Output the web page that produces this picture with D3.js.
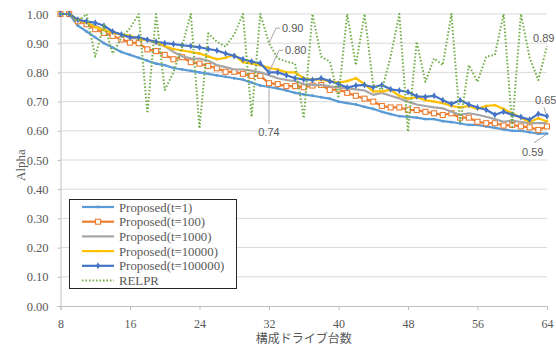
<!DOCTYPE html>
<html><head><meta charset="utf-8">
<script src="https://cdn.jsdelivr.net/npm/d3@7"></script>
<style>
html,body{margin:0;padding:0;background:#fff;}
svg{display:block;}
</style>
</head><body>
<svg id="chart" width="556" height="347"></svg>
<script>
const xValues = d3.range(8, 65);
const yTicks = [0,0.1,0.2,0.3,0.4,0.5,0.6,0.7,0.8,0.9,1.0];
const xTicks = [8,16,24,32,40,48,56,64];
const seriesNames = ["Proposed(t=1)","Proposed(t=100)","Proposed(t=1000)","Proposed(t=10000)","Proposed(t=100000)","RELPR"];

const t1 = [1.00,1.00,0.96,0.94,0.92,0.90,0.885,0.87,0.86,0.85,0.84,0.83,0.825,0.815,0.81,0.805,0.80,0.795,0.79,0.785,0.78,0.775,0.765,0.755,0.75,0.745,0.738,0.73,0.725,0.72,0.715,0.71,0.70,0.695,0.69,0.682,0.675,0.665,0.657,0.65,0.648,0.645,0.64,0.64,0.633,0.63,0.625,0.62,0.62,0.615,0.61,0.605,0.60,0.60,0.595,0.59,0.59];
const t100 = [1.00,1.00,0.975,0.965,0.948,0.935,0.925,0.913,0.902,0.90,0.879,0.873,0.86,0.845,0.852,0.835,0.83,0.822,0.814,0.802,0.802,0.795,0.788,0.788,0.763,0.76,0.753,0.753,0.749,0.755,0.757,0.74,0.742,0.73,0.72,0.71,0.70,0.685,0.68,0.68,0.672,0.671,0.665,0.66,0.654,0.66,0.645,0.645,0.631,0.626,0.626,0.618,0.62,0.615,0.612,0.603,0.615];
const t1000 = [1.00,1.00,0.98,0.97,0.96,0.945,0.935,0.93,0.92,0.915,0.91,0.90,0.89,0.87,0.855,0.848,0.847,0.84,0.825,0.818,0.81,0.81,0.806,0.80,0.79,0.78,0.774,0.77,0.76,0.757,0.757,0.752,0.749,0.745,0.742,0.738,0.723,0.73,0.72,0.711,0.70,0.69,0.685,0.68,0.677,0.665,0.655,0.66,0.655,0.648,0.64,0.631,0.635,0.63,0.626,0.626,0.626];
const t10000 = [1.00,1.00,0.98,0.97,0.955,0.945,0.935,0.93,0.925,0.915,0.91,0.905,0.89,0.88,0.875,0.87,0.865,0.855,0.845,0.85,0.86,0.835,0.83,0.825,0.815,0.81,0.80,0.80,0.78,0.775,0.775,0.77,0.765,0.77,0.78,0.76,0.735,0.735,0.74,0.72,0.71,0.715,0.705,0.70,0.695,0.685,0.68,0.685,0.675,0.685,0.688,0.675,0.66,0.645,0.63,0.643,0.632];
const t100000 = [1.00,1.00,0.98,0.975,0.97,0.96,0.94,0.93,0.92,0.92,0.912,0.905,0.90,0.897,0.893,0.89,0.886,0.88,0.875,0.865,0.856,0.845,0.837,0.831,0.80,0.80,0.79,0.78,0.776,0.774,0.78,0.77,0.76,0.748,0.755,0.757,0.749,0.757,0.742,0.738,0.733,0.718,0.716,0.72,0.705,0.692,0.705,0.69,0.68,0.672,0.655,0.665,0.655,0.647,0.638,0.658,0.65];
const relpr = [1.00,1.00,0.975,1.00,0.854,0.965,0.865,0.917,0.951,1.00,0.66,1.00,0.74,0.80,0.89,1.00,0.608,0.934,0.905,0.888,0.93,1.00,0.648,1.00,0.90,0.848,0.837,0.83,0.643,1.00,0.854,0.837,0.717,1.00,0.825,1.00,0.757,0.74,0.854,1.00,0.597,0.905,0.768,0.848,0.825,1.00,0.626,0.825,0.768,0.854,0.86,1.00,0.614,1.00,0.85,0.774,0.89];

// data labels: series index, category, label offset from the point
const annotations = [
  {text:"0.90", series:5, x:32, dx:11, dy:-15, leader:"elbow"},
  {text:"0.80", series:4, x:32, dx:14, dy:-22, leader:"elbow"},
  {text:"0.74", series:0, x:32, dx:0, dy:46, leader:"down"},
  {text:"0.89", series:5, x:64, dx:-14, dy:-8, leader:"none"},
  {text:"0.65", series:4, x:64, dx:-12, dy:-16, leader:"short"},
  {text:"0.59", series:0, x:64, dx:-25, dy:18, leader:"diag"}
];

const allSeries = [t1, t100, t1000, t10000, t100000, relpr];
const colors = ["#5B9BD5","#ED7D31","#A5A5A5","#FFC000","#4472C4","#70AD47"];

const svg = d3.select("#chart");
const x = d3.scaleLinear().domain([8,64]).range([60.5,547]);
const y = d3.scaleLinear().domain([0,1]).range([306,14]);

const serif = "'Liberation Serif','Times New Roman',serif";

// gridlines
svg.append("g").selectAll("line").data(yTicks.filter(d=>d>0)).join("line")
  .attr("x1", x(8)).attr("x2", x(64))
  .attr("y1", d=>y(d)).attr("y2", d=>y(d))
  .attr("stroke","#D9D9D9").attr("stroke-width",1);

// y axis
const yAxis = d3.axisLeft(y).tickValues(yTicks).tickFormat(d3.format(".2f")).tickSize(3).tickPadding(9);
const gy = svg.append("g").attr("transform",`translate(${x(8)},0)`).call(yAxis);
gy.select(".domain").attr("stroke","#BFBFBF");
gy.selectAll(".tick line").attr("stroke","#BFBFBF");
gy.selectAll("text").attr("font-family",serif).attr("font-size",12.5).attr("fill","#595959");

// x axis
const xAxis = d3.axisBottom(x).tickValues(xTicks).tickFormat(d3.format("d")).tickSize(4).tickPadding(9);
const gx = svg.append("g").attr("transform",`translate(0,${y(0)})`).call(xAxis);
gx.select(".domain").attr("stroke","#BFBFBF");
gx.selectAll(".tick line").attr("stroke","#BFBFBF");
gx.selectAll("text").attr("font-family",serif).attr("font-size",12).attr("fill","#595959");

// titles
svg.append("text").attr("x",(x(8)+x(64))/2).attr("y",343)
  .attr("text-anchor","middle").attr("font-family","'Noto Sans CJK JP',sans-serif")
  .attr("font-size",12).attr("fill","#595959").text("構成ドライブ台数");
svg.append("text").attr("transform",`translate(25,165) rotate(-90)`)
  .attr("text-anchor","middle").attr("font-family",serif)
  .attr("font-size",13).attr("fill","#595959").text("Alpha");

const line = d3.line().x((d,i)=>x(xValues[i])).y(d=>y(d));

[0,1,2,3,4,5].forEach(si=>{
  const g = svg.append("g");
  g.append("path").datum(allSeries[si]).attr("d",line)
    .attr("fill","none").attr("stroke",colors[si])
    .attr("stroke-width", si===5?2:2.2)
    .attr("stroke-dasharray", si===5?"1.5,2":null)
    .attr("stroke-linejoin","round");
  const pts = allSeries[si].map((v,i)=>[xValues[i],v]);
  if(si===1){
    g.selectAll("rect").data(pts).join("rect")
      .attr("x",d=>x(d[0])-2.5).attr("y",d=>y(d[1])-2.5)
      .attr("width",5).attr("height",5)
      .attr("fill","#fff").attr("stroke",colors[si]).attr("stroke-width",1.1);
  } else if(si===4){
    g.selectAll("path.m").data(pts).join("path").attr("class","m")
      .attr("d",d3.symbol(d3.symbolDiamond,14)())
      .attr("transform",d=>`translate(${x(d[0])},${y(d[1])})`)
      .attr("fill",colors[si]);
  } else if(si===0 || si===3){
    g.selectAll("circle").data(pts).join("circle")
      .attr("cx",d=>x(d[0])).attr("cy",d=>y(d[1])).attr("r",1.4)
      .attr("fill",colors[si]);
  }
});

// annotations
const labelFont = "'Liberation Sans',Arial,sans-serif";
const leaderG = svg.append("g");
const labelG = svg.append("g");
annotations.forEach(a=>{
  const v = allSeries[a.series][xValues.indexOf(a.x)];
  const px = x(a.x), py = y(v);
  const tx = px + a.dx, ty = py + a.dy;
  let pathD = null;
  const t = labelG.append("text").attr("font-family",labelFont).attr("font-size",11)
    .attr("fill","#595959").text(a.text);
  if(a.leader==="elbow"){
    pathD = `M${px},${py}L${tx-4},${ty}L${tx},${ty}`;
    t.attr("x",tx+2).attr("y",ty+4);
  } else if(a.leader==="down"){
    pathD = `M${px},${py+2}L${px},${ty-9}`;
    t.attr("x",px).attr("y",ty+3).attr("text-anchor","middle");
  } else if(a.leader==="diag"){
    pathD = `M${px-1},${py+1}L${tx+12},${ty-9}`;
    t.attr("x",tx).attr("y",ty+4);
  } else if(a.leader==="short"){
    pathD = `M${px-1},${py-2}L${px-3},${ty+7}`;
    t.attr("x",tx).attr("y",ty+4);
  } else {
    t.attr("x",tx).attr("y",ty+4);
  }
  if(pathD) leaderG.append("path").attr("d",pathD).attr("fill","none").attr("stroke","#A6A6A6").attr("stroke-width",1);
});

// legend
const lg = svg.append("g");
lg.append("rect").attr("x",69.5).attr("y",199.5).attr("width",167).attr("height",89)
  .attr("fill","#fff").attr("stroke","#262626").attr("stroke-width",1);
seriesNames.forEach((n,i)=>{
  const ly = 207 + i*14.7;
  lg.append("line").attr("x1",82).attr("x2",114).attr("y1",ly).attr("y2",ly)
    .attr("stroke",colors[i]).attr("stroke-width",i===5?2:2.2)
    .attr("stroke-dasharray",i===5?"1.5,2":null);
  if(i===1){
    lg.append("rect").attr("x",95.5).attr("y",ly-2.5).attr("width",5).attr("height",5)
      .attr("fill","#fff").attr("stroke",colors[i]).attr("stroke-width",1.1);
  } else if(i===4){
    lg.append("path").attr("d",d3.symbol(d3.symbolDiamond,14)()).attr("transform",`translate(98,${ly})`).attr("fill",colors[i]);
  } else if(i===0||i===3){
    lg.append("circle").attr("cx",98).attr("cy",ly).attr("r",1.4).attr("fill",colors[i]);
  }
  lg.append("text").attr("x",119).attr("y",ly+4.5).attr("font-family",serif)
    .attr("font-size",12.8).attr("fill","#595959").text(n);
});
</script>
</body></html>
